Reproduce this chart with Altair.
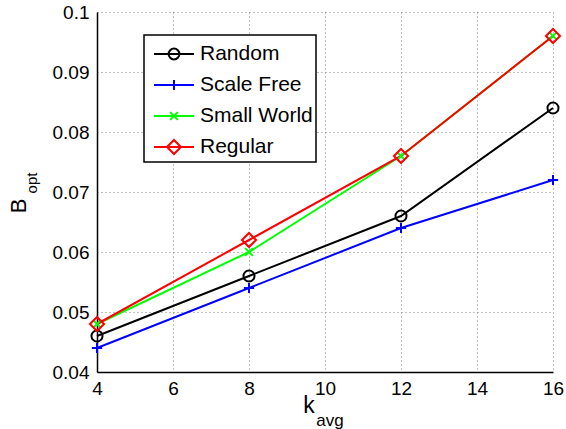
import altair as alt
import pandas as pd

# ---- data ----
k_avg = [4, 8, 12, 16]
series_names = ["Random", "Scale Free", "Small World", "Regular"]
random_vals = [0.046, 0.056, 0.066, 0.084]
scale_free_vals = [0.044, 0.054, 0.064, 0.072]
small_world_vals = [0.048, 0.060, 0.076, 0.096]
regular_vals = [0.048, 0.062, 0.076, 0.096]
series_colors = ["#000000", "#0000ff", "#00ff00", "#ff0000"]
x_ticks = [4, 6, 8, 10, 12, 14, 16]
y_ticks = [0.04, 0.05, 0.06, 0.07, 0.08, 0.09, 0.1]

all_vals = [random_vals, scale_free_vals, small_world_vals, regular_vals]
rows = []
for name, vals in zip(series_names, all_vals):
    for k, v in zip(k_avg, vals):
        rows.append({"series": name, "k": k, "B": v})
df = pd.DataFrame(rows)

FONT = "Liberation Sans"

# marker paths (unit scaled by sqrt(size)/2)
marker_paths = [
    "M0.92,0A0.92,0.92,0,1,1,-0.92,0A0.92,0.92,0,1,1,0.92,0Z",          # circle
    "M-0.85,0L0.85,0M0,-0.85L0,0.85",                                  # plus
    "M-0.65,-0.65L0.65,0.65M-0.65,0.65L0.65,-0.65",                    # x
    "M-1.17,0L0,-1.17L1.17,0L0,1.17Z",                                 # diamond
]
# legend symbols: line sample + marker
legend_paths = [
    "M-0.6,0L2.067,0M1.093,0A0.36,0.36,0,1,1,0.373,0A0.36,0.36,0,1,1,1.093,0Z",
    "M-0.6,0L2.067,0M0.733,-0.333L0.733,0.333",
    "M-0.6,0L2.067,0M0.473,-0.26L0.993,0.26M0.473,0.26L0.993,-0.26",
    "M-0.6,0L2.067,0M0.266,0L0.733,-0.467L1.2,0L0.733,0.467Z",
]

x_enc = alt.X("k:Q", scale=alt.Scale(domain=[4, 16], nice=False, zero=False),
              axis=alt.Axis(values=x_ticks, title=None, grid=True, labelPadding=7,
                            labelFlush=False))
y_enc = alt.Y("B:Q", scale=alt.Scale(domain=[0.04, 0.1], nice=False, zero=False),
              axis=alt.Axis(values=y_ticks, title=None, grid=True, format=".2~f",
                            labelPadding=8, labelFlush=False))

base = alt.Chart(df)

layers = []
for name, col in zip(series_names, series_colors):
    layers.append(
        base.transform_filter(alt.datum.series == name)
        .mark_line(color=col, strokeWidth=2)
        .encode(x=x_enc, y=y_enc)
    )
for name, col, path in zip(series_names, series_colors, marker_paths):
    layers.append(
        base.transform_filter(alt.datum.series == name)
        .mark_point(shape=path, color=col, filled=False, strokeWidth=2,
                    size=144, opacity=1)
        .encode(x=x_enc, y=y_enc)
    )

legend_kwargs = dict(
    title=None, orient="none", legendX=47, legendY=23, padding=3,
    rowPadding=5, labelOffset=21, labelFont=FONT, labelFontSize=21,
    labelColor="#000000", symbolSize=900, symbolStrokeWidth=2,
    strokeColor="#000000", fillColor="#ffffff",
)
legend_layer = (
    base.transform_filter("false")
    .mark_point(filled=False, strokeWidth=2, opacity=1)
    .encode(
        x=x_enc, y=y_enc,
        color=alt.Color("series:N", sort=series_names,
                        scale=alt.Scale(domain=series_names, range=series_colors),
                        legend=alt.Legend(**legend_kwargs)),
        shape=alt.Shape("series:N", sort=series_names,
                        scale=alt.Scale(domain=series_names, range=legend_paths),
                        legend=alt.Legend(**legend_kwargs)),
    )
)
layers.append(legend_layer)

one = alt.Chart(pd.DataFrame({"t": [0]}))
def txt(s, size, xpx, ypx, angle=0):
    kw = dict(text=s, font=FONT, fontSize=size, align="center",
              baseline="middle", color="#000000")
    if angle:
        kw["angle"] = angle
    return one.mark_text(**kw).encode(x=alt.value(xpx), y=alt.value(ypx))

layers += [
    txt("B", 22, -78, 194, 270),
    txt("opt", 15, -65, 171, 270),
    txt("k", 23, 212, 394),
    txt("avg", 17, 233, 409),
]

chart = (
    alt.layer(*layers)
    .properties(width=456, height=360, autosize="none",
                padding={"left": 97, "top": 12, "right": 13, "bottom": 57},
                background="#ffffff")
    .configure_view(strokeWidth=0)
    .configure_axis(
        labelFont=FONT, labelFontSize=19, labelColor="#000000",
        domainColor="#000000", domainWidth=1.5, ticks=False,
        gridColor="#808080", gridDash=[1, 3], gridWidth=1,
    )
    .configure_legend(strokeWidth=1.5)
)

chart.save("out.html", embed_options={"renderer": "svg", "actions": False})
